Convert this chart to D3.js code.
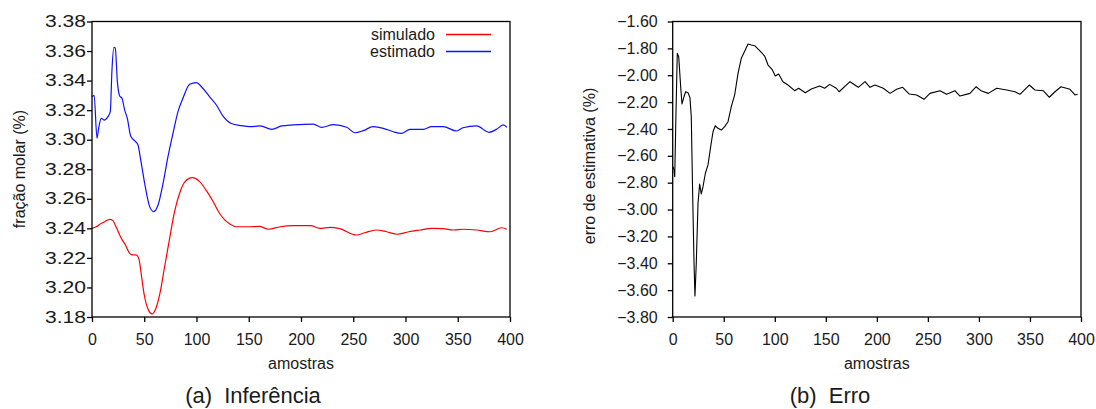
<!DOCTYPE html>
<html>
<head>
<meta charset="utf-8">
<script src="https://cdn.jsdelivr.net/npm/d3@7"></script>
<style>
	body { margin: 0; background: #fff; }
	text { font-family: "Liberation Sans", Arial, Helvetica, sans-serif; fill: #1a1a1a; }
</style>
</head>
<body>
<svg id="idChart" width="1096" height="409"></svg>
<script>
// ---- data ----
var aXTicks = [0, 50, 100, 150, 200, 250, 300, 350, 400];
var aYTicksInf = [3.18, 3.20, 3.22, 3.24, 3.26, 3.28, 3.30, 3.32, 3.34, 3.36, 3.38];
var aYTicksErro = [-3.80, -3.60, -3.40, -3.20, -3.00, -2.80, -2.60, -2.40, -2.20, -2.00, -1.80, -1.60];

var aAmostrasSim = [0, 4, 9, 12, 17, 20, 23, 28, 32, 36, 39, 42, 45, 47, 50, 54, 57.5, 60.5, 65, 69.5,
	74, 79, 84, 89, 96, 103, 109, 116, 122, 127, 132, 138, 151, 160, 169, 180, 193, 209, 218, 228,
	237, 253, 261, 272, 282, 292, 303, 314, 325, 336, 346, 355, 368, 381, 392, 397];
var aSimulado = [3.2400, 3.2411, 3.2434, 3.2445, 3.2461, 3.2452, 3.2411, 3.2333, 3.2287, 3.2231, 3.2220, 3.2220, 3.2190, 3.2096, 3.1949, 3.1847, 3.1820, 3.1847, 3.1960, 3.2140,
	3.2321, 3.2513, 3.2641, 3.2716, 3.2743, 3.2716, 3.2660, 3.2580, 3.2502, 3.2457, 3.2430, 3.2411, 3.2411, 3.2413, 3.2394, 3.2411, 3.2418, 3.2418, 3.2400, 3.2407,
	3.2398, 3.2355, 3.2370, 3.2389, 3.2377, 3.2360, 3.2377, 3.2389, 3.2400, 3.2398, 3.2389, 3.2394, 3.2389, 3.2377, 3.2404, 3.2394];

var aAmostrasEst = [0, 2, 4.8, 6.4, 8.9, 11.5, 15.3, 17.5, 19.1, 21, 22.3, 24.2, 26.5, 28.7, 31.3, 33.8, 37, 40.8, 44, 46.6,
	50.4, 55.2, 59, 63.2, 68, 72.7, 77.5, 82.3, 87, 93.5, 99.8, 106, 112.6, 119, 125.4, 133.3, 143, 151, 161, 172,
	181.5, 192.6, 211.8, 219.8, 231, 243.7, 251.7, 259.6, 269, 278.8, 288.3, 296.4, 304.3, 317, 325, 336, 349, 355, 368, 380,
	387, 393.6, 397];
var aEstimado = [3.3290, 3.3300, 3.3010, 3.3080, 3.3145, 3.3133, 3.3156, 3.3190, 3.3470, 3.3625, 3.3620, 3.3400, 3.3296, 3.3280, 3.3200, 3.3145, 3.3025, 3.2993, 3.2964, 3.2863,
	3.2705, 3.2547, 3.2513, 3.2558, 3.2705, 3.2885, 3.3043, 3.3190, 3.3280, 3.3375, 3.3386, 3.3348, 3.3290, 3.3235, 3.3160, 3.3110, 3.3095, 3.3088, 3.3093, 3.3070,
	3.3093, 3.3100, 3.3106, 3.3084, 3.3102, 3.3084, 3.3047, 3.3061, 3.3088, 3.3077, 3.3054, 3.3043, 3.3070, 3.3070, 3.3088, 3.3088, 3.3059, 3.3081, 3.3093, 3.3050,
	3.3070, 3.3100, 3.3084];

var aAmostrasErro = [0.3, 1.3, 2, 3.2, 4.5, 5.9, 7.8, 9.1, 11.1, 12.7, 15, 16.9, 18.2, 19.6, 20.9, 21.8, 23.1, 24.8, 26.4, 28,
	29.7, 32, 34.6, 37.2, 39.5, 41.7, 44.4, 47.6, 50.9, 54.2, 57.4, 60.7, 64, 67.2, 71.1, 73.8, 77, 80.3, 85.2, 90.1,
	93.4, 97.3, 100.5, 103.8, 108, 112.9, 119.5, 123.4, 129.9, 135.8, 144, 148.9, 153.8, 160.3, 163, 173.7, 181.8, 188.4, 193.3, 198.2,
	206.3, 212.9, 219.4, 225.3, 231.8, 239, 246.2, 252, 261.9, 268.4, 276.5, 281.4, 291.2, 297.1, 302.7, 309.2, 317.4, 327.2, 335.3, 340.2,
	349.3, 354.9, 363, 369, 374.5, 380.4, 389.2, 394.1, 396.7];
var aErro = [-2.681, -2.706, -2.756, -2.284, -1.837, -1.862, -2.085, -2.214, -2.160, -2.123, -2.130, -2.167, -2.309, -2.905, -3.400, -3.644, -3.400, -2.954, -2.810, -2.884,
	-2.830, -2.730, -2.668, -2.532, -2.421, -2.376, -2.395, -2.408, -2.383, -2.346, -2.234, -2.147, -1.986, -1.874, -1.812, -1.768, -1.775, -1.780, -1.817, -1.857,
	-1.924, -1.956, -2.006, -1.991, -2.048, -2.073, -2.115, -2.097, -2.130, -2.103, -2.080, -2.097, -2.068, -2.097, -2.123, -2.048, -2.090, -2.048, -2.090, -2.073,
	-2.097, -2.135, -2.105, -2.090, -2.140, -2.147, -2.179, -2.135, -2.115, -2.142, -2.115, -2.155, -2.135, -2.086, -2.118, -2.135, -2.097, -2.110, -2.123, -2.142,
	-2.073, -2.110, -2.115, -2.164, -2.123, -2.086, -2.105, -2.147, -2.142];

var aLegend = ["simulado", "estimado"];
var aLegendColors = ["#ff0000", "#1010ff"];

function zip(aX, aY) {
	return aX.map(function (x, i) { return { x: x, y: aY[i] }; });
}

var oSvg = d3.select("#idChart");

function drawPanel(oCfg) {
	var x = d3.scaleLinear().domain([0, 400]).range([oCfg.left, oCfg.right]);
	var y = d3.scaleLinear().domain(oCfg.yDomain).range([oCfg.bottom, oCfg.top]);

	// bottom axis
	var gX = oSvg.append("g")
		.attr("transform", "translate(0," + oCfg.bottom + ")")
		.call(d3.axisBottom(x).tickValues(aXTicks).tickSize(5).tickPadding(12));
	gX.select(".domain").remove();
	gX.selectAll("text").attr("font-size", 16).attr("fill", "#1a1a1a");
	gX.selectAll("line").attr("stroke", "#000").attr("stroke-width", 1.3);

	// left axis
	var gY = oSvg.append("g")
		.attr("transform", "translate(" + oCfg.left + ",0)")
		.call(d3.axisLeft(y).tickValues(oCfg.yTicks).tickSize(5).tickPadding(10).tickFormat(d3.format(".2f")));
	gY.select(".domain").remove();
	gY.selectAll("line").attr("stroke", "#000").attr("stroke-width", 1.3);
	gY.selectAll("text").attr("font-size", 16).attr("fill", "#1a1a1a");
	if (oCfg.stretchY) {
		// labels in the left figure are drawn wider
		gY.selectAll("text")
			.attr("text-anchor", "start")
			.attr("x", 0)
			.attr("transform", "translate(" + oCfg.stretchY.dx + ",0) scale(" + oCfg.stretchY.k + ",1)");
	}

	// curves
	var line = d3.line()
		.x(function (d) { return x(d.x); })
		.y(function (d) { return y(d.y); });
	oCfg.series.forEach(function (s) {
		oSvg.append("path")
			.datum(s.data)
			.attr("fill", "none")
			.attr("stroke", s.color)
			.attr("stroke-width", s.width)
			.attr("stroke-linejoin", "round")
			.attr("d", line.curve(s.curve)(s.data));
	});

	// frame
	oSvg.append("rect")
		.attr("x", oCfg.left).attr("y", oCfg.top)
		.attr("width", oCfg.right - oCfg.left).attr("height", oCfg.bottom - oCfg.top)
		.attr("fill", "none").attr("stroke", "#000").attr("stroke-width", 1.3);

	// titles
	oSvg.append("text")
		.attr("x", (oCfg.left + oCfg.right) / 2).attr("y", 369)
		.attr("text-anchor", "middle").attr("font-size", 16)
		.text("amostras");
	oSvg.append("text")
		.attr("transform", "translate(" + oCfg.yTitleX + "," + oCfg.yTitleY + ") rotate(-90)")
		.attr("text-anchor", "middle").attr("font-size", 16)
		.text(oCfg.yTitle);
	oSvg.append("text")
		.attr("x", oCfg.captionX).attr("y", 403)
		.attr("text-anchor", "middle").attr("font-size", 22)
		.style("white-space", "pre")
		.text(oCfg.caption);

	return { x: x, y: y };
}

drawPanel({
	left: 92, right: 510, top: 21.5, bottom: 317,
	yDomain: [3.18, 3.38], yTicks: aYTicksInf,
	stretchY: { dx: -47, k: 1.32 },
	yTitle: "fração molar (%)", yTitleX: 25, yTitleY: 169,
	caption: "(a)  Inferência", captionX: 253,
	series: [
		{ data: zip(aAmostrasSim, aSimulado), color: aLegendColors[0], width: 1.2, curve: d3.curveMonotoneX },
		{ data: zip(aAmostrasEst, aEstimado), color: aLegendColors[1], width: 1.2, curve: d3.curveMonotoneX }
	]
});

// legend
var gLegend = oSvg.append("g").attr("transform", "translate(435,34.5)");
aLegend.forEach(function (sName, i) {
	gLegend.append("text")
		.attr("x", 0).attr("y", i * 17).attr("dy", "0.35em")
		.attr("text-anchor", "end").attr("font-size", 16)
		.text(sName);
	gLegend.append("line")
		.attr("x1", 11).attr("x2", 56)
		.attr("y1", i * 17).attr("y2", i * 17)
		.attr("stroke", aLegendColors[i]).attr("stroke-width", 1.3);
});

drawPanel({
	left: 672.7, right: 1081, top: 21.5, bottom: 317,
	yDomain: [-3.8, -1.6], yTicks: aYTicksErro,
	yTitle: "erro de estimativa (%)", yTitleX: 595, yTitleY: 166,
	caption: "(b)  Erro", captionX: 830,
	series: [
		{ data: zip(aAmostrasErro, aErro), color: "#000000", width: 1.1, curve: d3.curveLinear }
	]
});
</script>
</body>
</html>
